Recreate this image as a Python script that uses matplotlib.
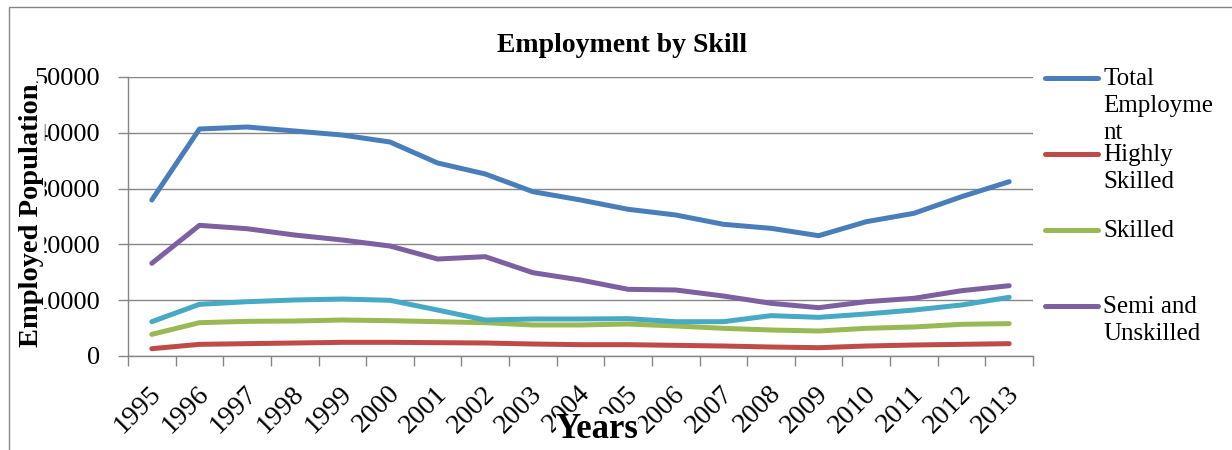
import numpy as np
import matplotlib
matplotlib.use('Agg')
import matplotlib.pyplot as plt
import matplotlib.transforms as mtransforms
from matplotlib.lines import Line2D
from matplotlib.patches import Rectangle

# data
years = ['1995', '1996', '1997', '1998', '1999', '2000', '2001', '2002', '2003', '2004',
         '2005', '2006', '2007', '2008', '2009', '2010', '2011', '2012', '2013']
total = [27960, 40680, 41040, 40320, 39600, 38350, 34590, 32620, 29450, 27960,
         26290, 25270, 23600, 22880, 21560, 24070, 25570, 28550, 31240]
highly = [1310, 2090, 2210, 2330, 2450, 2450, 2390, 2330, 2150, 2030,
          2030, 1910, 1790, 1610, 1490, 1790, 1970, 2090, 2210]
skilled = [3880, 5970, 6210, 6270, 6450, 6330, 6150, 5970, 5560, 5560,
           5730, 5380, 4960, 4660, 4480, 4960, 5200, 5680, 5800]
semi = [16610, 23420, 22810, 21680, 20790, 19710, 17380, 17800, 14930, 13620,
        11950, 11830, 10750, 9440, 8660, 9730, 10340, 11700, 12600]
unskilled = [6150, 9260, 9730, 10040, 10210, 9980, 8240, 6450, 6630, 6630,
             6690, 6150, 6150, 7230, 6930, 7530, 8240, 9140, 10520]

series = [total, highly, skilled, semi, unskilled]
colors = ['#4A7EBB', '#BE4B48', '#98B954', '#7D60A0', '#46AAC5']
legend_labels = ['Total\nEmployme\nnt', 'Highly\nSkilled', 'Skilled', 'Semi and\nUnskilled']

plt.rcParams['font.family'] = ['Liberation Serif', 'DejaVu Serif']
GRID = '#868686'

fig = plt.figure(figsize=(12.32, 4.5), dpi=100)
ax = fig.add_axes([128/1232, 1-356/450, (1033-128)/1232, (356-77)/450])

x = np.arange(len(years))
for s, c in zip(series, colors):
    ax.plot(x, s, color=c, lw=3.6, solid_capstyle='round', solid_joinstyle='round', zorder=3)

ax.set_xlim(-0.5, len(years) - 0.5)
ax.set_ylim(0, 50000)
ax.set_yticks(np.arange(0, 50001, 10000))
ax.set_yticklabels([str(v) for v in range(0, 50001, 10000)], fontsize=19)
ax.yaxis.grid(True, color=GRID, lw=1.0)
ax.set_axisbelow(True)

ax.set_xticks(x)
ax.set_xticklabels(years, fontsize=20, rotation=45, ha='right', va='top', rotation_mode='anchor')
ax.set_xticks(np.arange(-0.5, len(years)), minor=True)
ax.tick_params(axis='x', which='major', length=0, pad=18)
ax.tick_params(axis='x', which='minor', length=7, width=1.0, color=GRID)
ax.tick_params(axis='y', length=7, width=1.0, color=GRID, pad=13)
off = mtransforms.ScaledTranslation(-3/100, 0, fig.dpi_scale_trans)
for lab in ax.get_xticklabels():
    lab.set_transform(lab.get_transform() + off)

for side in ['top', 'right']:
    ax.spines[side].set_visible(False)
for side in ['left', 'bottom']:
    ax.spines[side].set_color(GRID)
    ax.spines[side].set_linewidth(1.0)

# chart border
fig.patches.append(Rectangle((9/1232, -0.2), 1.2, 1.2 - 7/450, transform=fig.transFigure,
                             fill=False, edgecolor=GRID, lw=1.0))

fig.text(622/1232, 1-45/450, 'Employment by Skill', fontsize=20, fontweight='bold',
         ha='center', va='center')
fig.text(32/1232, 1-215/450, 'Employed Population', fontsize=20.5, fontweight='bold',
         rotation=90, ha='center', va='center', zorder=5,
         bbox=dict(facecolor='white', edgecolor='none', pad=0))
fig.text(597/1232, 1-430/450, 'Years', fontsize=25, fontweight='bold',
         ha='center', va='center', zorder=5,
         bbox=dict(facecolor='white', edgecolor='none', pad=0))

# legend (the fifth series falls outside the visible legend)
leg_y = [78, 154, 230, 306]
for lbl, c, yy in zip(legend_labels, colors, leg_y):
    fig.add_artist(Line2D([1045/1232, 1098/1232], [1-yy/450, 1-yy/450], color=c, lw=3.6,
                          solid_capstyle='round', transform=fig.transFigure))
    fig.text(1103/1232, 1-(yy-10)/450, lbl, fontsize=18, ha='left', va='top', linespacing=1.3)

fig.savefig('out.png', dpi=100)
